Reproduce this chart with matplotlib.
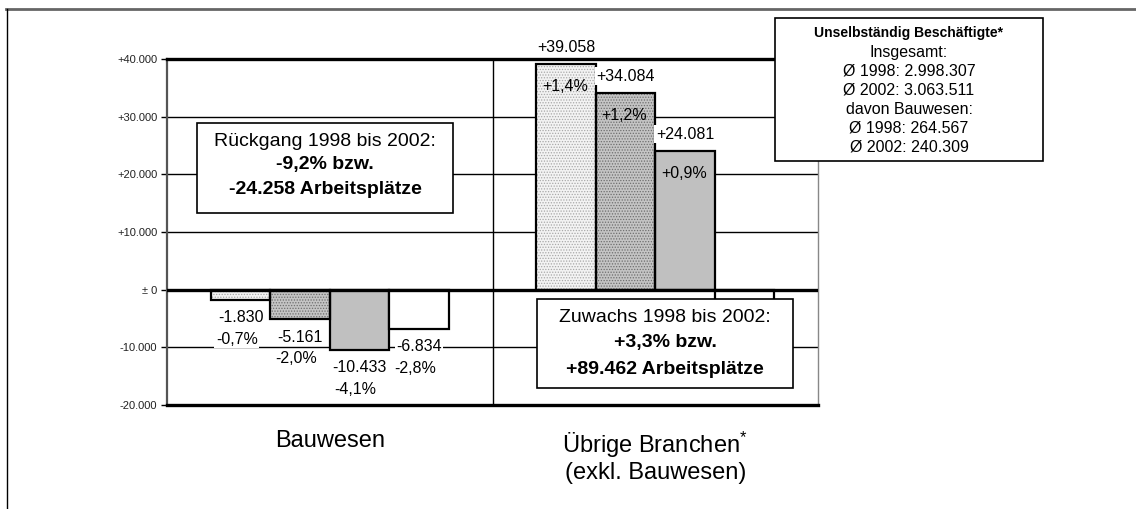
import matplotlib
matplotlib.use("Agg")
import matplotlib.pyplot as plt
from matplotlib.patches import Rectangle
from matplotlib.lines import Line2D
import numpy as np

plt.rcParams['font.family'] = ['Liberation Sans', 'DejaVu Sans']
plt.rcParams['mathtext.fontset'] = 'custom'
plt.rcParams['mathtext.rm'] = 'Liberation Sans'
plt.rcParams['mathtext.default'] = 'regular'
plt.rcParams['hatch.linewidth'] = 0.6

# data (changes of employment, year on year)
groups = ["Bauwesen", "Übrige Branchen$^{*}$\n(exkl. Bauwesen)"]
bau_values = [-1830, -5161, -10433, -6834]
bau_pct = ["-0,7%", "-2,0%", "-4,1%", "-2,8%"]
other_values = [39058, 34084, 24081, -7761]
other_pct = ["+1,4%", "+1,2%", "+0,9%", None]

yticks = [-20000, -10000, 0, 10000, 20000, 30000, 40000]
ytick_labels = ["-20.000", "-10.000", "± 0", "+10.000", "+20.000", "+30.000", "+40.000"]

box_left = ["Rückgang 1998 bis 2002:", "-9,2% bzw.", "-24.258 Arbeitsplätze"]
box_right = ["Zuwachs 1998 bis 2002:", "+3,3% bzw.", "+89.462 Arbeitsplätze"]
info_lines = ["Unselbständig Beschäftigte*", "Insgesamt:", "Ø 1998: 2.998.307",
              "Ø 2002: 3.063.511", "davon Bauwesen:", "Ø 1998: 264.567",
              "Ø 2002: 240.309"]

# bar looks: (facecolor, hatchcolor, hatch)
styles = [("#f3f3f3", "#a8a8a8", "......"),
          ("#c4c4c4", "#6e6e6e", "......"),
          ("#c0c0c0", None, None),
          ("#ffffff", None, None)]

W, H = 1136, 509


def fx(px):
    return px / W


def fy(py):
    return 1 - py / H


def de_num(v):
    return f"{v:+,}".replace(",", ".")


fig = plt.figure(figsize=(W / 100, H / 100), dpi=100)
ax = fig.add_axes([fx(167), fy(405), fx(818) - fx(167), fy(59) - fy(405)])
ax.set_xlim(0, 2)
ax.set_ylim(-20000, 40000)

# gridlines and divider
for y in [-10000, 10000, 20000, 30000]:
    ax.axhline(y, color="black", lw=1.0, zorder=1)
ax.axhline(0, color="black", lw=2.4, zorder=3)
ax.axvline(1, color="black", lw=1.0, zorder=1)

width = 0.1825
offsets = (np.arange(4) - 1.5) * width
all_values = [bau_values, other_values]
all_pct = [bau_pct, other_pct]

for g in range(2):
    for i in range(4):
        xc = g + 0.5 + offsets[i]
        v = all_values[g][i]
        fc, hc, hatch = styles[i]
        if hatch:
            ax.bar(xc, v, width, color=fc, edgecolor=hc, hatch=hatch, lw=0, zorder=2)
            ax.bar(xc, v, width, fill=False, edgecolor="black", lw=1.6, zorder=2.1)
        else:
            ax.bar(xc, v, width, color=fc, edgecolor="black", lw=1.6, zorder=2)
        pct = all_pct[g][i]
        if pct is None:
            continue
        if v > 0:
            ax.text(xc, v + 2900, de_num(v), ha="center", va="center", fontsize=11.5,
                    zorder=4, bbox=dict(facecolor="white", edgecolor="none", pad=1))
            ax.text(xc - 0.004, v - 3900, pct, ha="center", va="center", fontsize=11.5,
                    zorder=4)
        else:
            ax.text(xc, v - 3050, de_num(v), ha="center", va="center", fontsize=11.5,
                    zorder=4, bbox=dict(facecolor="white", edgecolor="none", pad=1))
            ax.text(xc - 0.012, v - 6800, pct, ha="center", va="center", fontsize=11.5,
                    zorder=4, bbox=dict(facecolor="white", edgecolor="none", pad=1))

ax.set_yticks(yticks)
ax.set_yticklabels(ytick_labels, fontsize=8, color="#222222")
ax.tick_params(axis="y", direction="out", length=4, width=1, pad=3)
ax.set_xticks([0.5, 1.5])
ax.set_xticklabels(groups, fontsize=17, linespacing=1.1)
ax.tick_params(axis="x", length=0, pad=18)

ax.spines["top"].set_linewidth(2.4)
ax.spines["bottom"].set_linewidth(2.4)
ax.spines["left"].set_color("#555555")
ax.spines["left"].set_linewidth(1.6)
ax.spines["right"].set_color("#888888")
ax.spines["right"].set_linewidth(1.0)


def text_box(x0, x1, y0, y1, lines, ys, sizes, weights):
    fig.add_artist(Rectangle((fx(x0), fy(y1)), fx(x1) - fx(x0), fy(y0) - fy(y1),
                             transform=fig.transFigure, facecolor="white",
                             edgecolor="black", lw=1.2, zorder=5))
    for s, y, fs, fw in zip(lines, ys, sizes, weights):
        fig.text(fx((x0 + x1) / 2), fy(y), s, ha="center", va="center",
                 fontsize=fs, fontweight=fw, zorder=6)


text_box(197, 453, 123, 213, box_left, [142, 164, 189], [14] * 3,
         ["normal", "bold", "bold"])
text_box(537, 793, 299, 388, box_right, [318, 343, 370], [14] * 3,
         ["normal", "bold", "bold"])
text_box(775, 1043, 18, 161, info_lines, [33, 52, 71, 90, 109, 128, 147],
         [10] + [11.5] * 6, ["bold"] + ["normal"] * 6)

# outer frame lines
fig.add_artist(Line2D([fx(6), 1], [fy(9), fy(9)], transform=fig.transFigure,
                      color="#666666", lw=2))
fig.add_artist(Line2D([fx(7), fx(7)], [fy(9), 0], transform=fig.transFigure,
                      color="black", lw=1))

fig.savefig("out.png", dpi=100)
